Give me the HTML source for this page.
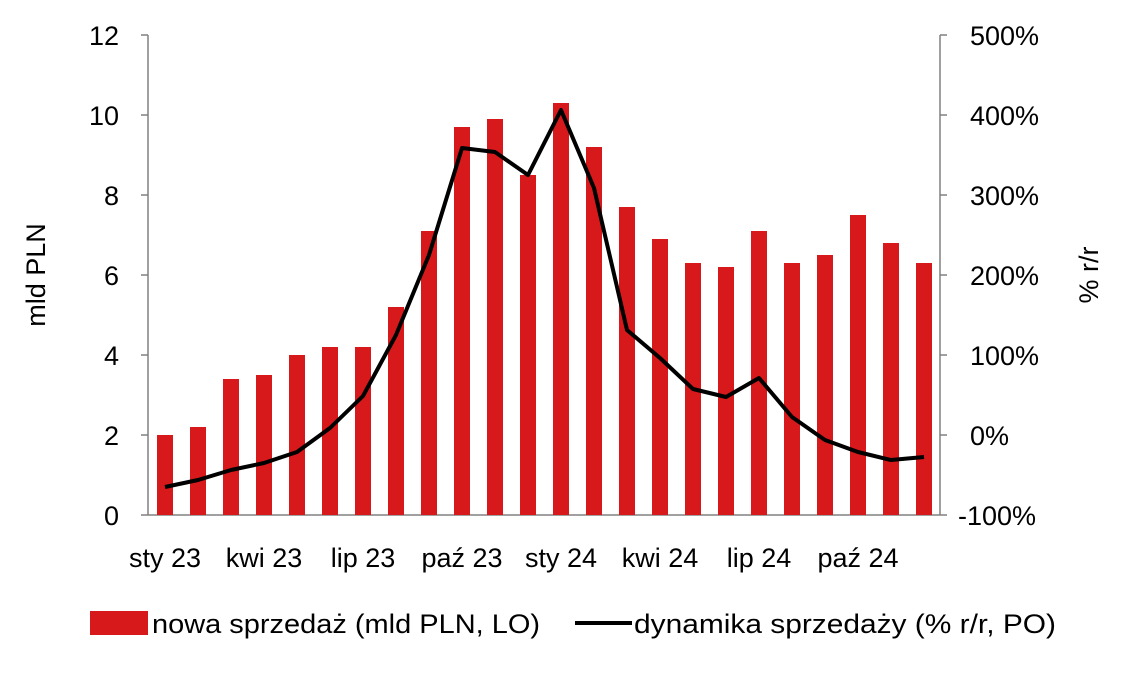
<!DOCTYPE html>
<html><head><meta charset="utf-8"><style>
body{margin:0;background:#fff;}
svg text{font-family:"Liberation Sans",sans-serif;fill:#000;}
</style></head><body>
<svg width="1140" height="669" viewBox="0 0 1140 669">
<g stroke="#808080" stroke-width="1.5">
<line x1="148" y1="35" x2="148" y2="515"/>
<line x1="940" y1="35" x2="940" y2="515"/>
<line x1="148" y1="515" x2="940" y2="515"/>
<line x1="141" y1="35" x2="148" y2="35"/><line x1="141" y1="115" x2="148" y2="115"/><line x1="141" y1="195" x2="148" y2="195"/><line x1="141" y1="275" x2="148" y2="275"/><line x1="141" y1="355" x2="148" y2="355"/><line x1="141" y1="435" x2="148" y2="435"/><line x1="141" y1="515" x2="148" y2="515"/>
<line x1="940" y1="35" x2="947" y2="35"/><line x1="940" y1="115" x2="947" y2="115"/><line x1="940" y1="195" x2="947" y2="195"/><line x1="940" y1="275" x2="947" y2="275"/><line x1="940" y1="355" x2="947" y2="355"/><line x1="940" y1="435" x2="947" y2="435"/><line x1="940" y1="515" x2="947" y2="515"/>
</g>
<g id="bars" fill="#d7191c"></g>
<polyline id="ln" fill="none" stroke="#000" stroke-width="4" stroke-linejoin="round"/>
<g font-size="27" text-anchor="end">
<text x="119" y="45">12</text><text x="119" y="125">10</text><text x="119" y="205">8</text><text x="119" y="285">6</text><text x="119" y="365">4</text><text x="119" y="445">2</text><text x="119" y="525">0</text>
</g>
<g font-size="27" text-anchor="start">
<text x="970" y="45">500%</text><text x="970" y="125">400%</text><text x="970" y="205">300%</text><text x="970" y="285">200%</text><text x="970" y="365">100%</text><text x="970" y="445">0%</text><text x="958" y="525">-100%</text>
</g>
<g font-size="27" text-anchor="middle">
<text x="165" y="567">sty 23</text><text x="264" y="567">kwi 23</text><text x="363" y="567">lip 23</text><text x="462" y="567">paź 23</text><text x="561" y="567">sty 24</text><text x="660" y="567">kwi 24</text><text x="759" y="567">lip 24</text><text x="858" y="567">paź 24</text>
</g>
<text font-size="27" text-anchor="middle" transform="translate(45,275) rotate(-90)">mld PLN</text>
<text font-size="27" text-anchor="middle" transform="translate(1098,275) rotate(-90)">% r/r</text>
<rect x="90" y="611" width="58" height="24" fill="#d7191c"/>
<text x="152" y="633" font-size="27" textLength="388" lengthAdjust="spacingAndGlyphs">nowa sprzedaż (mld PLN, LO)</text>
<line x1="575" y1="623" x2="632" y2="623" stroke="#000" stroke-width="4"/>
<text x="634" y="633" font-size="27" textLength="422" lengthAdjust="spacingAndGlyphs">dynamika sprzedaży (% r/r, PO)</text>
</svg>
<script>
var v=[2.0,2.2,3.4,3.5,4.0,4.2,4.2,5.2,7.1,9.7,9.9,8.5,10.3,9.2,7.7,6.9,6.3,6.2,7.1,6.3,6.5,7.5,6.8,6.3];
var l=[487,480,470,463,452,428,396,335,255,148,152,175,110,188,330,358,389,397,378,417,440,452,460,457];
var g=document.getElementById('bars'),pts=[];
for(var i=0;i<24;i++){var cx=165+33*i,h=v[i]*40;
var r=document.createElementNS('http://www.w3.org/2000/svg','rect');
r.setAttribute('x',cx-8);r.setAttribute('y',515-h);r.setAttribute('width',16);r.setAttribute('height',h);g.appendChild(r);
pts.push(cx+','+l[i]);}
document.getElementById('ln').setAttribute('points',pts.join(' '));
</script>
</body></html>
